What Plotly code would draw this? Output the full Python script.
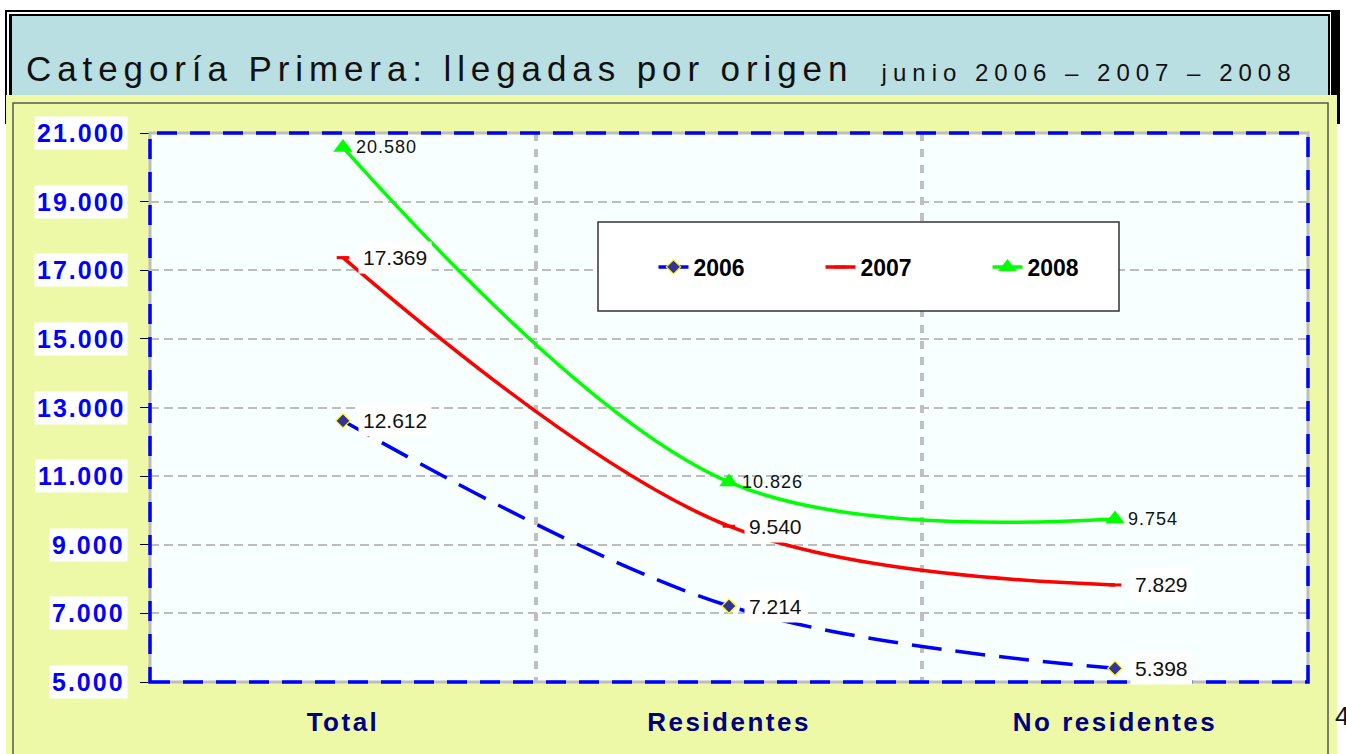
import plotly.graph_objects as go

# ---------------- data ----------------
categories = ["Total", "Residentes", "No residentes"]
series_names = ["2006", "2007", "2008"]
values_2006 = [12612, 7214, 5398]
values_2007 = [17369, 9540, 7829]
values_2008 = [20580, 10826, 9754]
y_tick_values = [5000, 7000, 9000, 11000, 13000, 15000, 17000, 19000, 21000]
title_main = "Categoría Primera: llegadas por origen"
title_sub = "junio 2006 – 2007 – 2008"
page_number = "4"

# ---------------- geometry helpers (pixel -> paper) ----------------
W, H = 1346, 754
ML, MR, MT, MB = 150, 38, 133, 72
PW, PH = W - ML - MR, H - MT - MB


def px(x):
    return (x - ML) / PW


def py(y):
    return (H - MB - y) / PH


def fmt(v):
    return f"{v:,}".replace(",", ".")


FONT = "Arial, Liberation Sans, sans-serif"

fig = go.Figure()

styles = [
    dict(color="#0000FF", width=3.5, dash="30px,14px",
         marker=dict(symbol="diamond", size=11, color="#333399",
                     line=dict(color="#FFFF00", width=1.2))),
    dict(color="#FF0000", width=3.5, dash="solid",
         marker=dict(symbol="line-ew", size=9, color="#FF0000",
                     line=dict(color="#FF0000", width=3))),
    dict(color="#00FF00", width=3.5, dash="solid",
         marker=dict(symbol="triangle-up", size=17, color="#00FF00",
                     line=dict(color="#00FF00", width=0))),
]
all_values = [values_2006, values_2007, values_2008]

for name, vals, st in zip(series_names, all_values, styles):
    fig.add_trace(go.Scatter(
        x=categories, y=vals, name=name, mode="lines+markers",
        line=dict(color=st["color"], width=st["width"], dash=st["dash"],
                  shape="spline", smoothing=1.0),
        marker=st["marker"], hoverinfo="skip",
    ))

annotations = []
# data labels
for si, (vals, st) in enumerate(zip(all_values, styles)):
    for c, v in zip(categories, vals):
        if si < 2:
            annotations.append(dict(
                x=c, y=v, xref="x", yref="y", text=fmt(v), showarrow=False,
                xanchor="left", yanchor="middle", xshift=15,
                bgcolor="white", borderpad=4,
                font=dict(family=FONT, size=21, color="#111111")))
        else:
            annotations.append(dict(
                x=c, y=v, xref="x", yref="y",
                text=f'<span style="letter-spacing:1px">{fmt(v)}</span>',
                showarrow=False, xanchor="left", yanchor="middle", xshift=12,
                borderpad=0,
                font=dict(family=FONT, size=18, color="#111111")))

# y tick labels with white boxes
for v in y_tick_values:
    annotations.append(dict(
        x=0, y=v, xref="paper", yref="y",
        text=f'<span style="letter-spacing:2px">{fmt(v)}</span>',
        showarrow=False, xanchor="right", yanchor="middle", xshift=-22,
        bgcolor="white", borderpad=2,
        font=dict(family=FONT, size=25, color="#0000FF", weight="bold")))

# title
annotations.append(dict(
    x=px(25), y=py(68), xref="paper", yref="paper",
    text=(f'<span style="letter-spacing:5.9px">{title_main}</span>'
          f'<span style="letter-spacing:5.9px"> </span>'
          f'<span style="font-size:24px;letter-spacing:6px"> {title_sub}</span>'),
    showarrow=False, xanchor="left", yanchor="middle", borderpad=0,
    font=dict(family=FONT, size=35, color="#111111")))

# page number
annotations.append(dict(
    x=px(1334), y=py(716), xref="paper", yref="paper", text=page_number,
    showarrow=False, xanchor="left", yanchor="middle", borderpad=0,
    font=dict(family=FONT, size=26, color="#111111")))

shapes = []


def rect(x0, y0, x1, y1, fill=None, line_color=None, line_width=0, dash="solid", layer="below"):
    d = dict(type="rect", xref="paper", yref="paper",
             x0=px(x0), x1=px(x1), y0=py(y1), y1=py(y0), layer=layer)
    d["fillcolor"] = fill if fill else "rgba(0,0,0,0)"
    d["line"] = dict(color=line_color if line_color else "rgba(0,0,0,0)",
                     width=line_width, dash=dash)
    shapes.append(d)


# title box with double black frame and right shadow
rect(5, 10, 1340, 124, fill="#000000")
rect(7, 12, 1331, 124, fill="#FFFFFF")
rect(9, 14, 1330, 124, fill="#000000")
rect(12, 16, 1328, 124, fill="#B9DFE2")
# yellow panel
rect(6, 95, 1337, 760, fill="#EDF9A6")
rect(13, 103, 1328, 770, line_color="#555555", line_width=1.5)
# plot area background
shapes.append(dict(type="rect", xref="paper", yref="paper", x0=0, x1=1, y0=0, y1=1,
                   fillcolor="#F7FFFF", line=dict(width=0), layer="below"))
# plot area border: grey under blue dashes
shapes.append(dict(type="rect", xref="paper", yref="paper", x0=0, x1=1, y0=0, y1=1,
                   fillcolor="rgba(0,0,0,0)", line=dict(color="#BDBDBD", width=3),
                   layer="above"))
shapes.append(dict(type="rect", xref="paper", yref="paper", x0=0, x1=1, y0=0, y1=1,
                   fillcolor="rgba(0,0,0,0)",
                   line=dict(color="#0000FF", width=3.5, dash="20px,13px"),
                   layer="above"))
# legend box
rect(598, 222, 1119, 311, fill="#FFFFFF", line_color="#333333", line_width=1.5, layer="above")

fig.update_layout(
    width=W, height=H,
    margin=dict(l=ML, r=MR, t=MT, b=MB, pad=0),
    paper_bgcolor="#FFFFFF", plot_bgcolor="rgba(0,0,0,0)",
    separators=",.",
    font=dict(family=FONT),
    shapes=shapes, annotations=annotations,
    showlegend=True,
    legend=dict(orientation="h", x=px(904), xanchor="center", y=py(267), yanchor="middle",
                bgcolor="rgba(0,0,0,0)", borderwidth=0,
                font=dict(family=FONT, size=23, color="#000000", weight="bold"),
                entrywidth=122, itemwidth=30),
    xaxis=dict(type="category", categoryorder="array", categoryarray=categories,
               range=[-0.5, 2.5], tickson="boundaries",
               showgrid=True, gridcolor="#C0C0C0", gridwidth=3.5, griddash="8px,8px",
               ticks="", showline=False, zeroline=False,
               tickvals=categories,
               ticktext=[f'<span style="letter-spacing:2.5px">{c}</span>' for c in categories],
               tickfont=dict(family=FONT, size=26, color="#000080", weight="bold"),
               ticklabelstandoff=22),
    yaxis=dict(range=[5000, 21000], tickvals=y_tick_values, showticklabels=False,
               showgrid=True, gridcolor="#BDBDBD", gridwidth=1.5, griddash="9px,5px",
               ticks="outside", ticklen=9, tickcolor="#000000", tickwidth=1,
               showline=True, linecolor="#444444", linewidth=1, zeroline=False),
)

fig.write_html("out.html", config={"displayModeBar": False},
               post_script="document.body.style.margin='0';document.body.style.overflow='hidden';")
